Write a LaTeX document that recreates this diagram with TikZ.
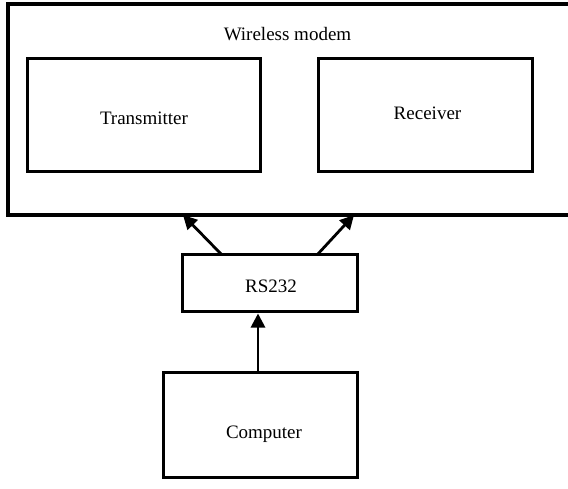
\documentclass[tikz,border=0pt]{standalone}
\usepackage{fontspec}
\setmainfont{Liberation Serif}
\usetikzlibrary{arrows.meta,calc}
\begin{document}
\begin{tikzpicture}[x=1pt,y=-1pt,
  box/.style={draw=black,line width=3pt,fill=none,inner sep=0pt},
  outerbox/.style={draw=black,line width=3.8pt,inner sep=0pt},
  lbl/.style={anchor=base,inner sep=0pt,font=\fontsize{19}{22}\selectfont},
  arr/.style={line width=2.8pt,-{Triangle[length=14pt,width=14pt]}}]
\useasboundingbox (0,0) rectangle (568,489);
\clip (0,0) rectangle (568,489);
\fill[white] (0,0) rectangle (568,489);
\node[outerbox,minimum width=582pt,minimum height=211pt] (modem) at (299,109.5) {};
\node[box,minimum width=233pt,minimum height=113pt] (tx) at (143.5,115.5) {};
\node[box,minimum width=214pt,minimum height=113pt] (rx) at (425,115.5) {};
\node[box,minimum width=175pt,minimum height=57pt] (rs) at (269.5,283.5) {};
\node[box,minimum width=194pt,minimum height=105pt] (pc) at (260,424.5) {};
\node[lbl] (tmodem) at (287.5,41) {Wireless modem};
\node[lbl] (ttx) at (144,125) {Transmitter};
\node[lbl] (trx) at (427.5,120) {Receiver};
\node[lbl] (trs) at (271,293) {RS232};
\node[lbl] (tpc) at (264,438) {Computer};
\coordinate (s1) at (222,255);
\coordinate (e1) at (183,215);
\coordinate (s2) at (317,255);
\coordinate (e2) at (354,215);
\coordinate (s3) at (258,372);
\coordinate (e3) at (258,312);
\draw[arr] (s1) -- (e1);
\draw[arr] (s2) -- (e2);
\draw[arr] (pc.north -| s3) -- (rs.south -| e3);
\end{tikzpicture}
\end{document}
